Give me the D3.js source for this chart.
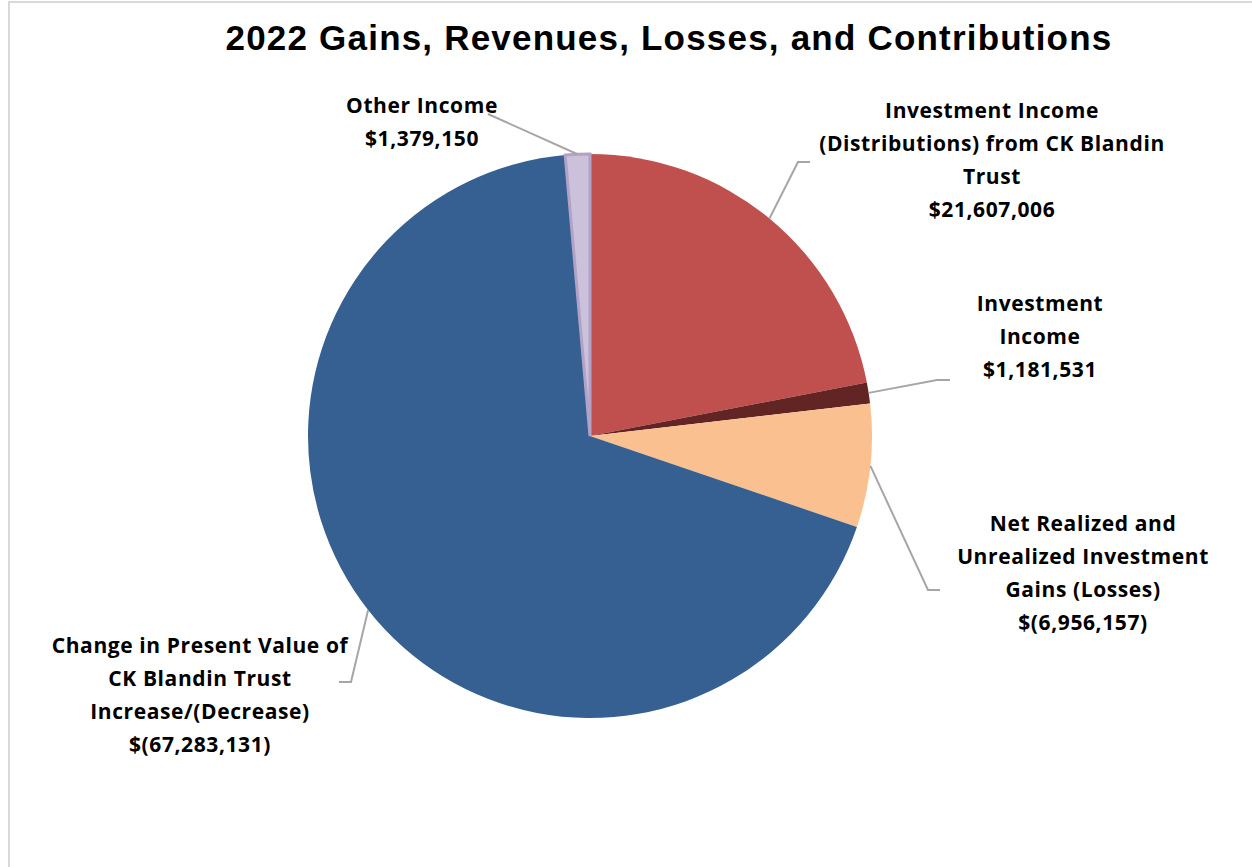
<!DOCTYPE html>
<html>
<head>
<meta charset="utf-8">
<script src="https://cdn.jsdelivr.net/npm/d3@7"></script>
<style>
  body { margin: 0; background: #fff; }
  text { font-family: "Open Sans", Lato, sans-serif; font-weight: bold; fill: #000; }
  .title { font-family: "Liberation Sans", Arial, sans-serif; }
</style>
</head>
<body>
<script>
// Chart data (order = clockwise from 12 o'clock)
var categories = [
  ["Investment Income", "(Distributions) from CK Blandin", "Trust"],
  ["Investment", "Income"],
  ["Net Realized and", "Unrealized Investment", "Gains (Losses)"],
  ["Change in Present Value of", "CK Blandin Trust", "Increase/(Decrease)"],
  ["Other Income"]
];
var values = [21607006, 1181531, -6956157, -67283131, 1379150];
var colors = ["#c0504d", "#632523", "#fac090", "#376092", "#ccc1da"];

// Layout: label centre x, first baseline y, leader elbow & end
var labelPos = [
  { x: 992,  y: 118, elbow: [798, 162], end: [810, 162] },
  { x: 1040, y: 311, elbow: [937, 380], end: [950, 380] },
  { x: 1083, y: 531, elbow: [928, 590], end: [940, 590] },
  { x: 200,  y: 653, elbow: [351, 682], end: [339, 682] },
  { x: 422,  y: 113, elbow: [488, 114], end: [488, 114] }
];

var width = 1252, height = 867;
var cx = 590, cy = 436, radius = 282;
var lineH = 33;

var svg = d3.select("body").append("svg")
  .attr("width", width)
  .attr("height", height);

// Frame (only top/left visible in the reference)
svg.append("rect")
  .attr("x", 9).attr("y", 2)
  .attr("width", width + 20).attr("height", height + 20)
  .attr("fill", "none")
  .attr("stroke", "#d9d9d9")
  .attr("stroke-width", 2);

svg.append("text")
  .attr("class", "title")
  .attr("x", 669).attr("y", 50)
  .attr("text-anchor", "middle")
  .attr("font-size", 35)
  .attr("letter-spacing", 1.2)
  .text("2022 Gains, Revenues, Losses, and Contributions");

var slices = values.map(function(v, i) { return { i: i, value: v }; });
var pie = d3.pie().sort(null).value(function(d) { return Math.abs(d.value); });
var arcs = pie(slices);
var arc = d3.arc().innerRadius(0).outerRadius(radius);

var g = svg.append("g").attr("transform", "translate(" + cx + "," + cy + ")");

g.selectAll("path")
    .data(arcs).enter()
  .append("path")
    .attr("d", arc)
    .attr("fill", function(d) { return colors[d.data.i]; })
    .attr("stroke", function(d) { return d.data.i === 4 ? "#b3a2c7" : "none"; })
    .attr("stroke-width", function(d) { return d.data.i === 4 ? 3 : 0; });

// Leader lines
var fmt = d3.format(",");
function money(v) {
  return v < 0 ? "$(" + fmt(-v) + ")" : "$" + fmt(v);
}

arcs.forEach(function(d) {
  var i = d.data.i, p = labelPos[i];
  var mid = (d.startAngle + d.endAngle) / 2;
  var sx = cx + radius * Math.sin(mid);
  var sy = cy - radius * Math.cos(mid);
  svg.append("polyline")
    .attr("points", [[sx, sy], p.elbow, p.end].map(function(q) { return q.join(","); }).join(" "))
    .attr("fill", "none")
    .attr("stroke", "#a6a6a6")
    .attr("stroke-width", 2);

  var lines = categories[i].concat([money(values[i])]);
  var t = svg.append("text")
    .attr("text-anchor", "middle")
    .attr("font-size", 21)
    .attr("letter-spacing", 0.6);
  lines.forEach(function(s, k) {
    t.append("tspan")
      .attr("x", p.x)
      .attr("y", p.y + k * lineH)
      .text(s);
  });
});
</script>
</body>
</html>
